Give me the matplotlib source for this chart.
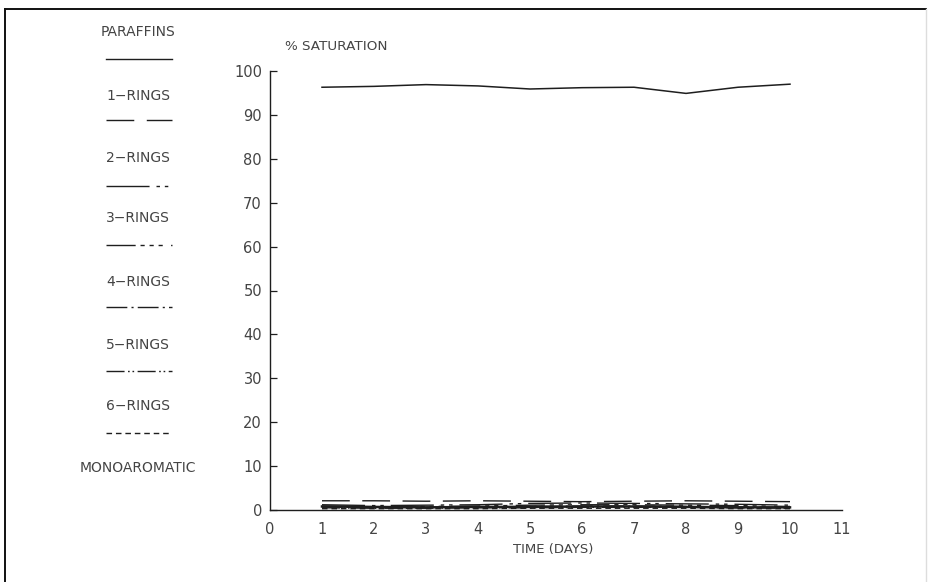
import matplotlib
matplotlib.use("Agg")
import matplotlib.pyplot as plt
from matplotlib.lines import Line2D

days = [1, 2, 3, 4, 5, 6, 7, 8, 9, 10]
paraffins = [96.3, 96.5, 96.9, 96.6, 95.9, 96.2, 96.3, 94.9, 96.3, 97.0]
rings1 = [2.1, 2.1, 2.0, 2.1, 2.0, 1.9, 2.0, 2.1, 2.0, 1.9]
rings2 = [1.2, 1.0, 1.1, 1.2, 1.5, 1.6, 1.5, 1.4, 1.3, 1.1]
rings3 = [0.9, 0.7, 0.8, 0.9, 1.1, 1.2, 1.2, 1.1, 1.0, 0.8]
rings4 = [0.7, 0.6, 0.6, 0.7, 0.8, 0.9, 0.9, 0.8, 0.7, 0.6]
rings5 = [0.5, 0.4, 0.4, 0.5, 0.5, 0.6, 0.6, 0.6, 0.5, 0.4]
rings6 = [0.3, 0.3, 0.3, 0.3, 0.4, 0.4, 0.4, 0.4, 0.3, 0.3]
monoaromatic = [0.8, 0.7, 0.6, 0.7, 0.7, 0.8, 0.8, 0.7, 0.6, 0.6]

series_names = ["PARAFFINS", "1\u2212RINGS", "2\u2212RINGS", "3\u2212RINGS", "4\u2212RINGS",
                "5\u2212RINGS", "6\u2212RINGS", "MONOAROMATIC"]
series_values = [paraffins, rings1, rings2, rings3, rings4, rings5, rings6, monoaromatic]
styles = ["-",
          (0, (20, 9)),
          (0, (31, 5, 2.5, 3.5, 2.5, 5)),
          (0, (21, 3.5, 3, 3.5, 3, 3.5, 3, 6)),
          (0, (15, 3, 1.5, 3)),
          (0, (13, 2.5, 1.2, 2, 1.2, 2.5)),
          (0, (4, 2.8)),
          "-"]
widths = [1.1, 1.0, 1.0, 1.0, 1.0, 1.0, 1.0, 1.8]

yticks = [0, 10, 20, 30, 40, 50, 60, 70, 80, 90, 100]
xticks = [0, 1, 2, 3, 4, 5, 6, 7, 8, 9, 10, 11]

ink = "#1e1e1e"
txt = "#444444"

W, H = 929, 582
fig = plt.figure(figsize=(W / 100, H / 100), dpi=100)
ax = fig.add_axes([270 / W, 1 - 510 / H, (842 - 270) / W, (510 - 71) / H])

for vals, ls, lw in zip(series_values, styles, widths):
    ax.plot(days, vals, color=ink, linestyle=ls, linewidth=lw)

ax.set_xlim(0, 11)
ax.set_ylim(0, 100)
ax.set_yticks(yticks)
ax.set_xticks(xticks)
ax.set_xticklabels([str(t) for t in xticks])
ax.set_xticks([11], minor=True)
ax.tick_params(axis="y", direction="in", length=5, width=0.9, color=ink,
               labelsize=10.5, labelcolor=txt, pad=5.8)
ax.tick_params(axis="x", which="major", length=0, labelsize=10.5, labelcolor=txt, pad=8.5)
ax.tick_params(axis="x", which="minor", direction="in", length=6, width=0.9, color=ink)
for s in ["top", "right"]:
    ax.spines[s].set_visible(False)
for s in ["left", "bottom"]:
    ax.spines[s].set_color(ink)
    ax.spines[s].set_linewidth(1.0)

fig.text(285 / W, 1 - 46 / H, "% SATURATION", fontsize=9.7, color=txt, va="center", ha="left")
fig.text(553 / W, 1 - 549 / H, "TIME (DAYS)", fontsize=9.5, color=txt, va="center", ha="center")

# legend column on the left
label_y = [32, 96, 158, 218, 282, 345, 406, 468]
line_y = [59, 120, 186, 245, 307, 371, 433, None]
for name, ly, sy, ls in zip(series_names, label_y, line_y, styles):
    fig.text(138 / W, 1 - ly / H, name, fontsize=10, color=txt, ha="center", va="center")
    if sy is not None:
        fig.add_artist(Line2D([106 / W, 172 / W], [1 - sy / H, 1 - sy / H],
                              transform=fig.transFigure, color=ink, linestyle=ls, linewidth=1.0))

# page frame (scan border)
fig.add_artist(Line2D([5 / W, 926 / W], [1 - 9 / H, 1 - 9 / H], transform=fig.transFigure,
                      color="#111111", linewidth=1.4))
fig.add_artist(Line2D([5 / W, 5 / W], [1 - 9 / H, 0], transform=fig.transFigure,
                      color="#111111", linewidth=1.4))
fig.add_artist(Line2D([926 / W, 926 / W], [1 - 9 / H, 0], transform=fig.transFigure,
                      color="#dddddd", linewidth=1.0))

fig.savefig("out.png", dpi=100)
